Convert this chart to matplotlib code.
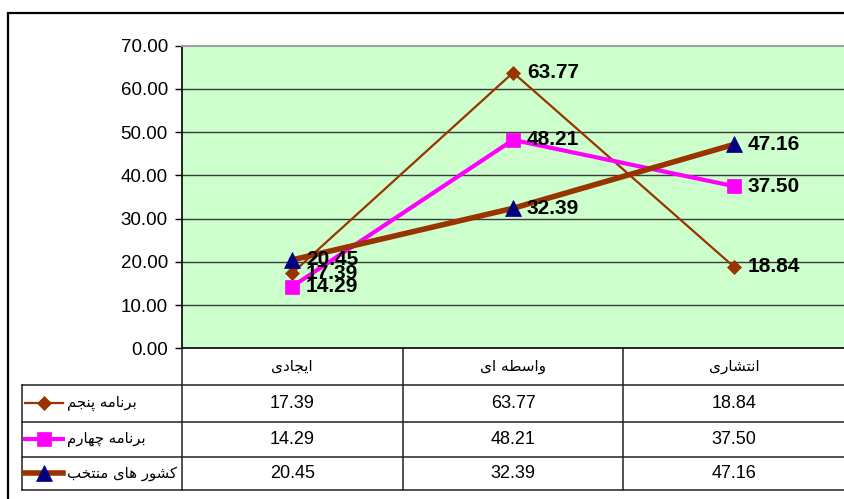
import matplotlib
matplotlib.use("Agg")
import matplotlib.pyplot as plt
from matplotlib.lines import Line2D
from matplotlib.patches import Rectangle
from matplotlib.transforms import blended_transform_factory

# ---- data -------------------------------------------------------------
categories = ["ایجادی", "واسطه ای", "انتشاری"]
series_names = ["برنامه پنجم", "برنامه چهارم", "کشور های منتخب"]
plan5 = [17.39, 63.77, 18.84]
plan4 = [14.29, 48.21, 37.50]
selected = [20.45, 32.39, 47.16]
y_ticks = [0, 10, 20, 30, 40, 50, 60, 70]

# ---- minimal Persian shaping (matplotlib draws glyphs left-to-right) ---
FORMS = {
    "ا": ("\uFE8D", "\uFE8E", None, None),
    "ب": ("\uFE8F", "\uFE90", "\uFE91", "\uFE92"),
    "پ": ("\uFB56", "\uFB57", "\uFB58", "\uFB59"),
    "ت": ("\uFE95", "\uFE96", "\uFE97", "\uFE98"),
    "ج": ("\uFE9D", "\uFE9E", "\uFE9F", "\uFEA0"),
    "چ": ("\uFB7A", "\uFB7B", "\uFB7C", "\uFB7D"),
    "خ": ("\uFEA5", "\uFEA6", "\uFEA7", "\uFEA8"),
    "د": ("\uFEA9", "\uFEAA", None, None),
    "ر": ("\uFEAD", "\uFEAE", None, None),
    "س": ("\uFEB1", "\uFEB2", "\uFEB3", "\uFEB4"),
    "ش": ("\uFEB5", "\uFEB6", "\uFEB7", "\uFEB8"),
    "ط": ("\uFEC1", "\uFEC2", "\uFEC3", "\uFEC4"),
    "ک": ("\uFB8E", "\uFB8F", "\uFB90", "\uFB91"),
    "م": ("\uFEE1", "\uFEE2", "\uFEE3", "\uFEE4"),
    "ن": ("\uFEE5", "\uFEE6", "\uFEE7", "\uFEE8"),
    "ه": ("\uFEE9", "\uFEEA", "\uFEEB", "\uFEEC"),
    "و": ("\uFEED", "\uFEEE", None, None),
    "ی": ("\uFBFC", "\uFBFD", "\uFBFE", "\uFBFF"),
}


def shape(text):
    out = []
    for i, ch in enumerate(text):
        if ch not in FORMS:
            out.append(ch)
            continue
        iso, fin, ini, med = FORMS[ch]
        prev = text[i - 1] if i > 0 else None
        nxt = text[i + 1] if i + 1 < len(text) else None
        join_prev = prev in FORMS and FORMS[prev][2] is not None
        join_next = ini is not None and nxt in FORMS
        if join_prev and join_next:
            out.append(med)
        elif join_prev:
            out.append(fin)
        elif join_next:
            out.append(ini)
        else:
            out.append(iso)
    return "".join(reversed(out))


# ---- figure -----------------------------------------------------------
W, H = 844, 499
fig = plt.figure(figsize=(W / 100, H / 100), dpi=100)
fig.patch.set_facecolor("white")


def fx(px):
    return px / W


def fy(py):
    return 1 - py / H


PLOT_L, PLOT_R, PLOT_T, PLOT_B = 181.7, 844.5, 45.7, 348.3
ax = fig.add_axes([fx(PLOT_L), fy(PLOT_B), fx(PLOT_R - PLOT_L), (PLOT_B - PLOT_T) / H])
ax.set_facecolor("#CCFFCC")
ax.set_xlim(-0.5, 2.5)
ax.set_ylim(0, 70)
ax.set_yticks(y_ticks)
ax.set_yticklabels([f"{v:.2f}" for v in y_ticks],
                   fontfamily=["Liberation Sans"], fontsize=13.5)
ax.set_xticks([])
ax.tick_params(axis="y", direction="out", length=5, width=1, color="black", pad=5)
for v in y_ticks[1:-1]:
    ax.axhline(v, color="#3a3a3a", lw=1.0, zorder=1)
ax.spines["left"].set_color("black")
ax.spines["left"].set_linewidth(1.2)
ax.spines["bottom"].set_color("black")
ax.spines["bottom"].set_linewidth(1.2)
ax.spines["top"].set_color("#a0a0a0")
ax.spines["top"].set_linewidth(1.5)
ax.spines["right"].set_visible(False)

x = list(range(len(categories)))
brown = "#993300"
magenta = "#FF00FF"
navy = "#000080"

styles = [
    dict(values=plan5, color=brown, lw=1.6, marker="D", ms=7.5, mfc=brown, mec=brown),
    dict(values=plan4, color=magenta, lw=3.0, marker="s", ms=9.5, mfc=magenta, mec=magenta),
    dict(values=selected, color=brown, lw=4.0, marker="^", ms=11.5, mfc=navy, mec=navy),
]

label_font = dict(fontfamily=["Liberation Sans"], fontweight="bold",
                  fontsize=15, color="black")
for z, st in enumerate(styles):
    ax.plot(x, st["values"], color=st["color"], lw=st["lw"], marker=st["marker"],
            ms=st["ms"], mfc=st["mfc"], mec=st["mec"], mew=0.5, zorder=3 + z,
            solid_joinstyle="miter", clip_on=False)
for st in styles:
    for xi, v in zip(x, st["values"]):
        ax.annotate(f"{v:.2f}", (xi, v), xytext=(10, 0), textcoords="offset points",
                    ha="left", va="center", zorder=10, **label_font)

# ---- data table below the plot --------------------------------------
tcol = blended_transform_factory(ax.transData, fig.transFigure)
line_kw = dict(color="#202020", lw=1.1, transform=fig.transFigure, clip_on=False)

row_edges = [348.3, 384.9, 421.5, 456.6, 490.0]
col_edges = [PLOT_L, 402.5, 623.3, 844.5]
TABLE_L = 21.7

# horizontal rules
for i, ry in enumerate(row_edges):
    if i == 0:
        continue
    fig.add_artist(Line2D([fx(TABLE_L), fx(col_edges[-1])], [fy(ry), fy(ry)], **line_kw))
# vertical rules
for cx in col_edges[:-1]:
    fig.add_artist(Line2D([fx(cx), fx(cx)], [fy(row_edges[0]), fy(row_edges[-1])], **line_kw))
fig.add_artist(Line2D([fx(TABLE_L), fx(TABLE_L)], [fy(row_edges[1]), fy(row_edges[-1])], **line_kw))

header_font = dict(fontfamily=["DejaVu Sans"], fontsize=11, color="black")
legend_font = dict(fontfamily=["DejaVu Sans"], fontsize=10.7, color="black")
num_font = dict(fontfamily=["Liberation Sans"], fontsize=13, color="black")

for xi, cat in zip(x, categories):
    ax.text(xi, fy((row_edges[0] + row_edges[1]) / 2), shape(cat), transform=tcol,
            ha="center", va="center", **header_font)

for r, (name, st) in enumerate(zip(series_names, styles)):
    cy = fy((row_edges[r + 1] + row_edges[r + 2]) / 2)
    for xi, v in zip(x, st["values"]):
        ax.text(xi, cy, f"{v:.2f}", transform=tcol, ha="center", va="center", **num_font)
    # legend key
    fig.add_artist(Line2D([fx(25), fx(63)], [cy, cy], color=st["color"],
                          lw=st["lw"], transform=fig.transFigure, clip_on=False))
    fig.add_artist(Line2D([fx(44)], [cy], marker=st["marker"], ms=st["ms"],
                          mfc=st["mfc"], mec=st["mec"], mew=0.5, lw=0,
                          transform=fig.transFigure, clip_on=False))
    fig.text(fx(67), cy, shape(name), ha="left", va="center", **legend_font)

# outer chart frame
fig.add_artist(Rectangle((fx(8.3), fy(560)), fx(900), (560 - 13.3) / H,
                         fill=False, ec="black", lw=1.6, transform=fig.transFigure))

fig.savefig("out.png", dpi=100, facecolor="white")
